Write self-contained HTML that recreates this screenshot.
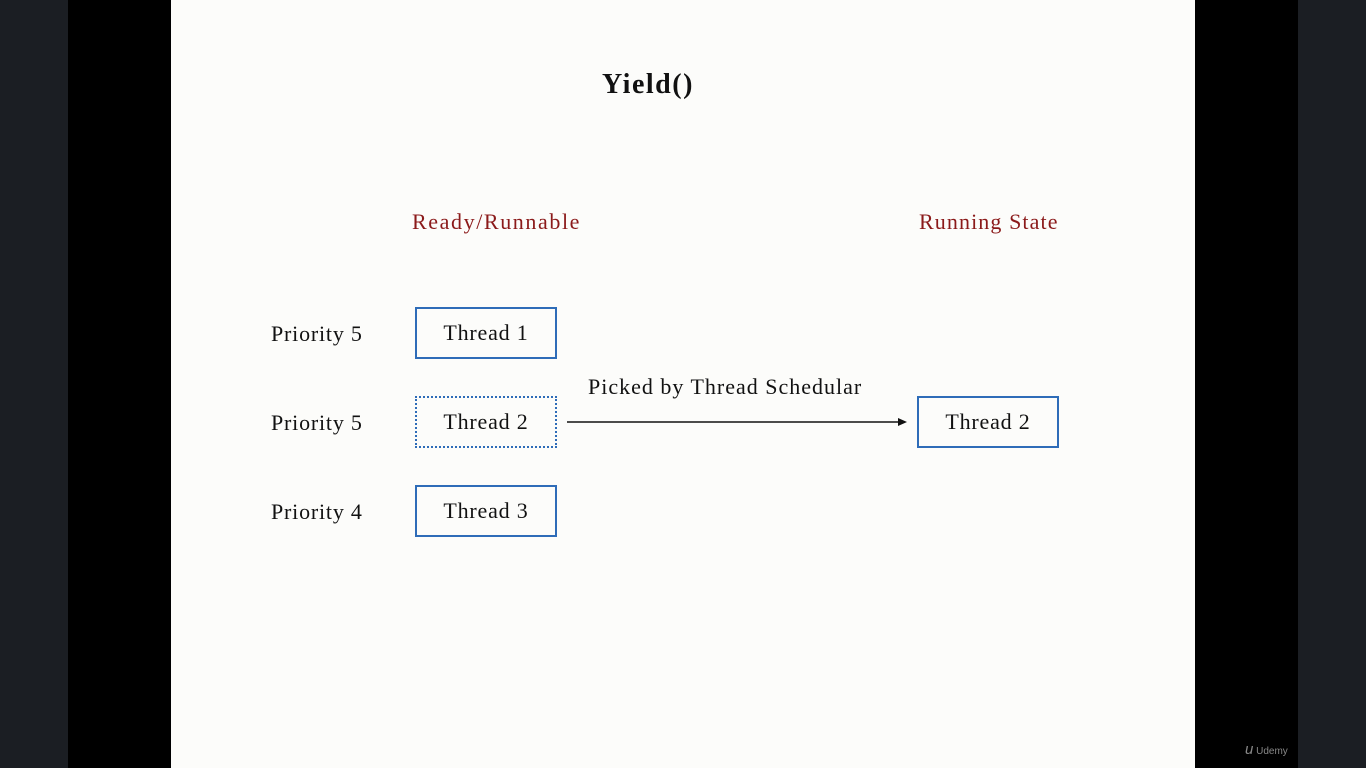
<!DOCTYPE html>
<html><head><meta charset="utf-8"><style>
body{margin:0;width:1366px;height:768px;background:#000;position:relative;overflow:hidden;font-family:"Liberation Serif",serif;}
.l{position:absolute;left:0;top:0;width:68px;height:768px;background:#1b1e23}
.r{position:absolute;left:1298px;top:0;width:68px;height:768px;background:#1b1e23}
.s{position:absolute;left:171px;top:0;width:1024px;height:768px;background:#fcfcfa}
.t{position:absolute;white-space:nowrap;color:#111;font-size:22px;line-height:24px;letter-spacing:0.8px}
.b{position:absolute;box-sizing:border-box;width:142px;height:52px;border:2px solid #2e6cb8;text-align:center;line-height:48px;font-size:22px;letter-spacing:0.8px;color:#111}
.red{color:#8b1a1a}
</style></head><body>
<div class="l"></div><div class="r"></div><div class="s"></div>
<div class="t" style="left:602px;top:70px;font-size:28px;font-weight:bold;line-height:30px;letter-spacing:1.5px">Yield()</div>
<div class="t red" style="left:412px;top:210px;letter-spacing:1.6px">Ready/Runnable</div>
<div class="t red" style="left:919px;top:210px;letter-spacing:1.1px">Running State</div>
<div class="t" style="left:271px;top:322px">Priority 5</div>
<div class="t" style="left:271px;top:411px">Priority 5</div>
<div class="t" style="left:271px;top:500px">Priority 4</div>
<div class="b" style="left:415px;top:307px">Thread 1</div>
<div class="b" style="left:415px;top:396px;border:2px dotted #2e6cb8">Thread 2</div>
<div class="b" style="left:415px;top:485px">Thread 3</div>
<div class="b" style="left:917px;top:396px">Thread 2</div>
<div class="t" style="left:588px;top:375px;letter-spacing:1px">Picked by Thread Schedular</div>
<svg style="position:absolute;left:0;top:0" width="1366" height="768">
<line x1="567" y1="422" x2="899" y2="422" stroke="#111" stroke-width="1.5"/>
<polygon points="898,418 907,422 898,426" fill="#111"/>
</svg>
<div class="t" style="left:1245px;top:743px;color:#888;font-family:'Liberation Sans',sans-serif;font-size:10px;line-height:14px;letter-spacing:0"><span style="font-size:15px;font-style:italic">u</span> Udemy</div>
</body></html>
